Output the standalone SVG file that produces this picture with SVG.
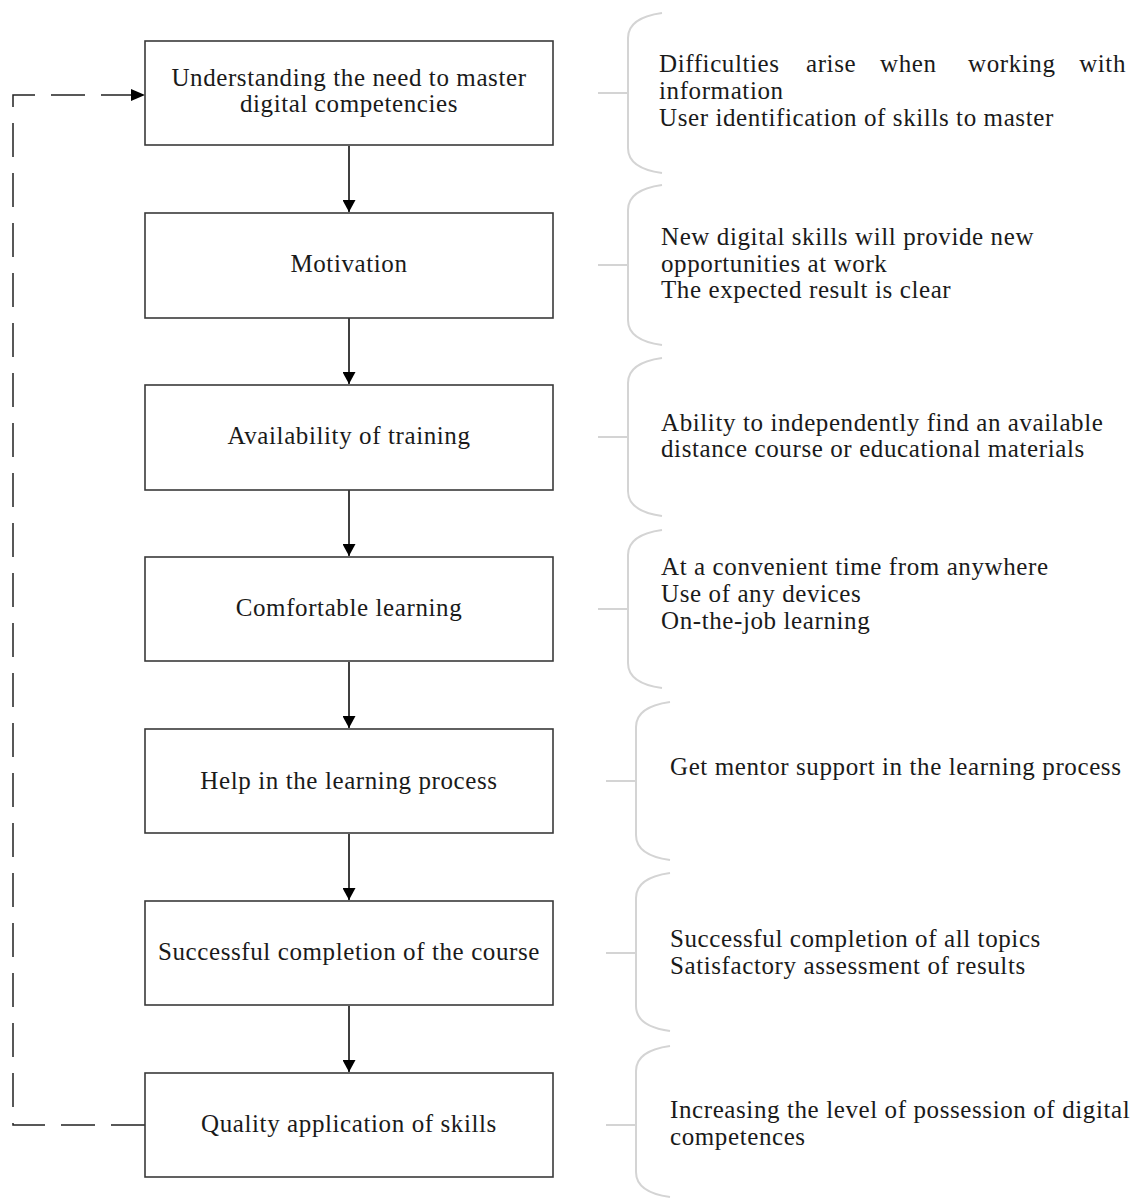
<svg xmlns="http://www.w3.org/2000/svg" width="1138" height="1199" viewBox="0 0 1138 1199">
<style>
.box{fill:#fff;stroke:#3a3a3a;stroke-width:1.6}
.t{font-family:"Liberation Serif","Times New Roman",serif;font-size:25px;letter-spacing:0.6px;fill:#1a1a1a}
.c{text-anchor:middle}
.br{fill:none;stroke:#d4d4d4;stroke-width:2}
.ar{stroke:#000;stroke-width:1.5;fill:none}
.dash{stroke:#222;stroke-width:1.5;fill:none;stroke-dasharray:34 16}
</style>
<defs>
<marker id="ah" markerWidth="12" markerHeight="13" refX="12" refY="6.5" orient="auto" markerUnits="userSpaceOnUse">
<path d="M0,0 L12,6.5 L0,13 Z" fill="#000"/>
</marker>
</defs>
<rect width="1138" height="1199" fill="#fff"/>
<g id="connectors">
<line class="ar" x1="349" y1="146" x2="349" y2="212" marker-end="url(#ah)"/>
<line class="ar" x1="349" y1="318" x2="349" y2="384" marker-end="url(#ah)"/>
<line class="ar" x1="349" y1="490" x2="349" y2="556" marker-end="url(#ah)"/>
<line class="ar" x1="349" y1="662" x2="349" y2="728" marker-end="url(#ah)"/>
<line class="ar" x1="349" y1="834" x2="349" y2="900" marker-end="url(#ah)"/>
<line class="ar" x1="349" y1="1006" x2="349" y2="1072" marker-end="url(#ah)"/>
<path class="dash" d="M145,1125 L13,1125 L13,95 L143,95"/>
<path d="M131,89 L145,95 L131,101 Z" fill="#000"/>
</g>
<g id="brackets">
<path class="br" d="M662,13 C640,16 628,24 628,38 L628,148 C628,162 640,170 662,173 M598,93 L628,93"/>
<path class="br" d="M662,185 C640,188 628,196 628,210 L628,320 C628,334 640,342 662,345 M598,265 L628,265"/>
<path class="br" d="M662,358 C640,361 628,369 628,383 L628,491 C628,505 640,513 662,516 M598,437 L628,437"/>
<path class="br" d="M662,530 C640,533 628,541 628,555 L628,663 C628,677 640,685 662,688 M598,609 L628,609"/>
<path class="br" d="M670,702 C648,705 636,713 636,727 L636,835 C636,849 648,857 670,860 M606,781 L636,781"/>
<path class="br" d="M670,873 C648,876 636,884 636,898 L636,1006 C636,1020 648,1028 670,1031 M606,953 L636,953"/>
<path class="br" d="M670,1046 C648,1049 636,1057 636,1071 L636,1172 C636,1186 648,1194 670,1197 M606,1125 L636,1125"/>
</g>
<g id="n1">
<rect class="box" x="145" y="41" width="408" height="104"/>
<text class="t c" x="349" y="86">Understanding the need to master</text>
<text class="t c" x="349" y="112">digital competencies</text>
</g>
<g id="n2">
<rect class="box" x="145" y="213" width="408" height="105"/>
<text class="t c" x="349" y="272">Motivation</text>
</g>
<g id="n3">
<rect class="box" x="145" y="385" width="408" height="105"/>
<text class="t c" x="349" y="444">Availability of training</text>
</g>
<g id="n4">
<rect class="box" x="145" y="557" width="408" height="104"/>
<text class="t c" x="349" y="616">Comfortable learning</text>
</g>
<g id="n5">
<rect class="box" x="145" y="729" width="408" height="104"/>
<text class="t c" x="349" y="789">Help in the learning process</text>
</g>
<g id="n6">
<rect class="box" x="145" y="901" width="408" height="104"/>
<text class="t c" x="349" y="960">Successful completion of the course</text>
</g>
<g id="n7">
<rect class="box" x="145" y="1073" width="408" height="104"/>
<text class="t c" x="349" y="1132">Quality application of skills</text>
</g>
<g id="r1">
<text class="t" x="659" y="72">Difficulties</text>
<text class="t" x="806" y="72">arise</text>
<text class="t" x="880" y="72">when</text>
<text class="t" x="968" y="72">working</text>
<text class="t" x="1126" y="72" text-anchor="end">with</text>
<text class="t" x="659" y="99">information</text>
<text class="t" x="659" y="126">User identification of skills to master</text>
</g>
<g id="r2">
<text class="t" x="661" y="245">New digital skills will provide new</text>
<text class="t" x="661" y="272">opportunities at work</text>
<text class="t" x="661" y="298">The expected result is clear</text>
</g>
<g id="r3">
<text class="t" x="661" y="431">Ability to independently find an available</text>
<text class="t" x="661" y="457">distance course or educational materials</text>
</g>
<g id="r4">
<text class="t" x="661" y="575">At a convenient time from anywhere</text>
<text class="t" x="661" y="602">Use of any devices</text>
<text class="t" x="661" y="629">On-the-job learning</text>
</g>
<g id="r5">
<text class="t" x="670" y="775">Get mentor support in the learning process</text>
</g>
<g id="r6">
<text class="t" x="670" y="947">Successful completion of all topics</text>
<text class="t" x="670" y="974">Satisfactory assessment of results</text>
</g>
<g id="r7">
<text class="t" x="670" y="1118">Increasing the level of possession of digital</text>
<text class="t" x="670" y="1145">competences</text>
</g>
</svg>
